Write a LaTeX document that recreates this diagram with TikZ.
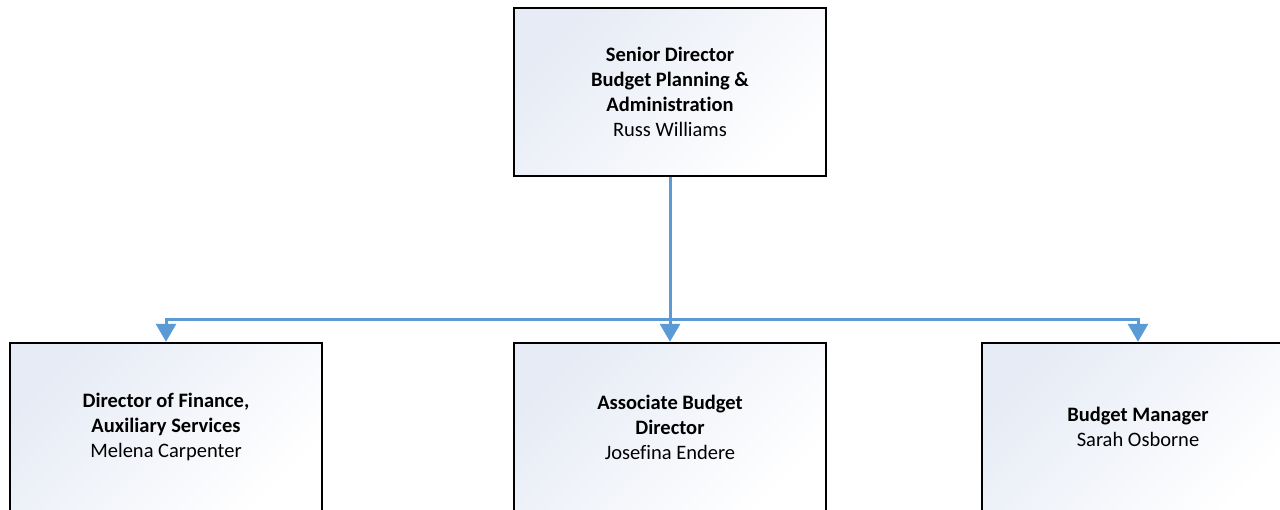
\documentclass[tikz,border=0pt]{standalone}
\usepackage{fontspec}
\setmainfont[Ligatures={NoCommon}]{Carlito}
\usetikzlibrary{arrows.meta}
\definecolor{boxblue}{HTML}{E6EBF5}
\definecolor{connblue}{HTML}{5B9BD5}
\tikzset{
  orgbox/.style={draw=black, line width=2.4pt, minimum width=312pt, minimum height=168pt,
    top color=boxblue, bottom color=white, shading angle=45,
    align=center, font=\fontsize{20.5}{25}\selectfont, text=black},
  conn/.style={draw=connblue, line width=3pt},
  tip/.style={-{Triangle[width=20pt,length=18pt]}}
}
\begin{document}
\begin{tikzpicture}[x=1pt,y=-1pt]
\useasboundingbox (0,0) rectangle (1280,510);
\clip (0,0) rectangle (1280,510);
\node[orgbox] (top) at (670,92) {\textbf{Senior Director}\\\textbf{Budget Planning \&}\\\textbf{Administration}\\Russ Williams};
\node[orgbox] (left) at (166,427) {\textbf{Director of Finance,}\\\textbf{Auxiliary Services}\\Melena Carpenter};
\node[orgbox] (mid) at (670,427) {\textbf{Associate Budget}\\\textbf{Director}\\Josefina Endere};
\node[orgbox] (right) at (1138,427) {\textbf{Budget Manager}\\Sarah Osborne};
\coordinate (bus) at (670,320);
\draw[conn, tip] (top.south) -- (mid.north);
\draw[conn, tip] (bus) -| (left.north);
\draw[conn, tip] (bus) -| (right.north);
\end{tikzpicture}
\end{document}
